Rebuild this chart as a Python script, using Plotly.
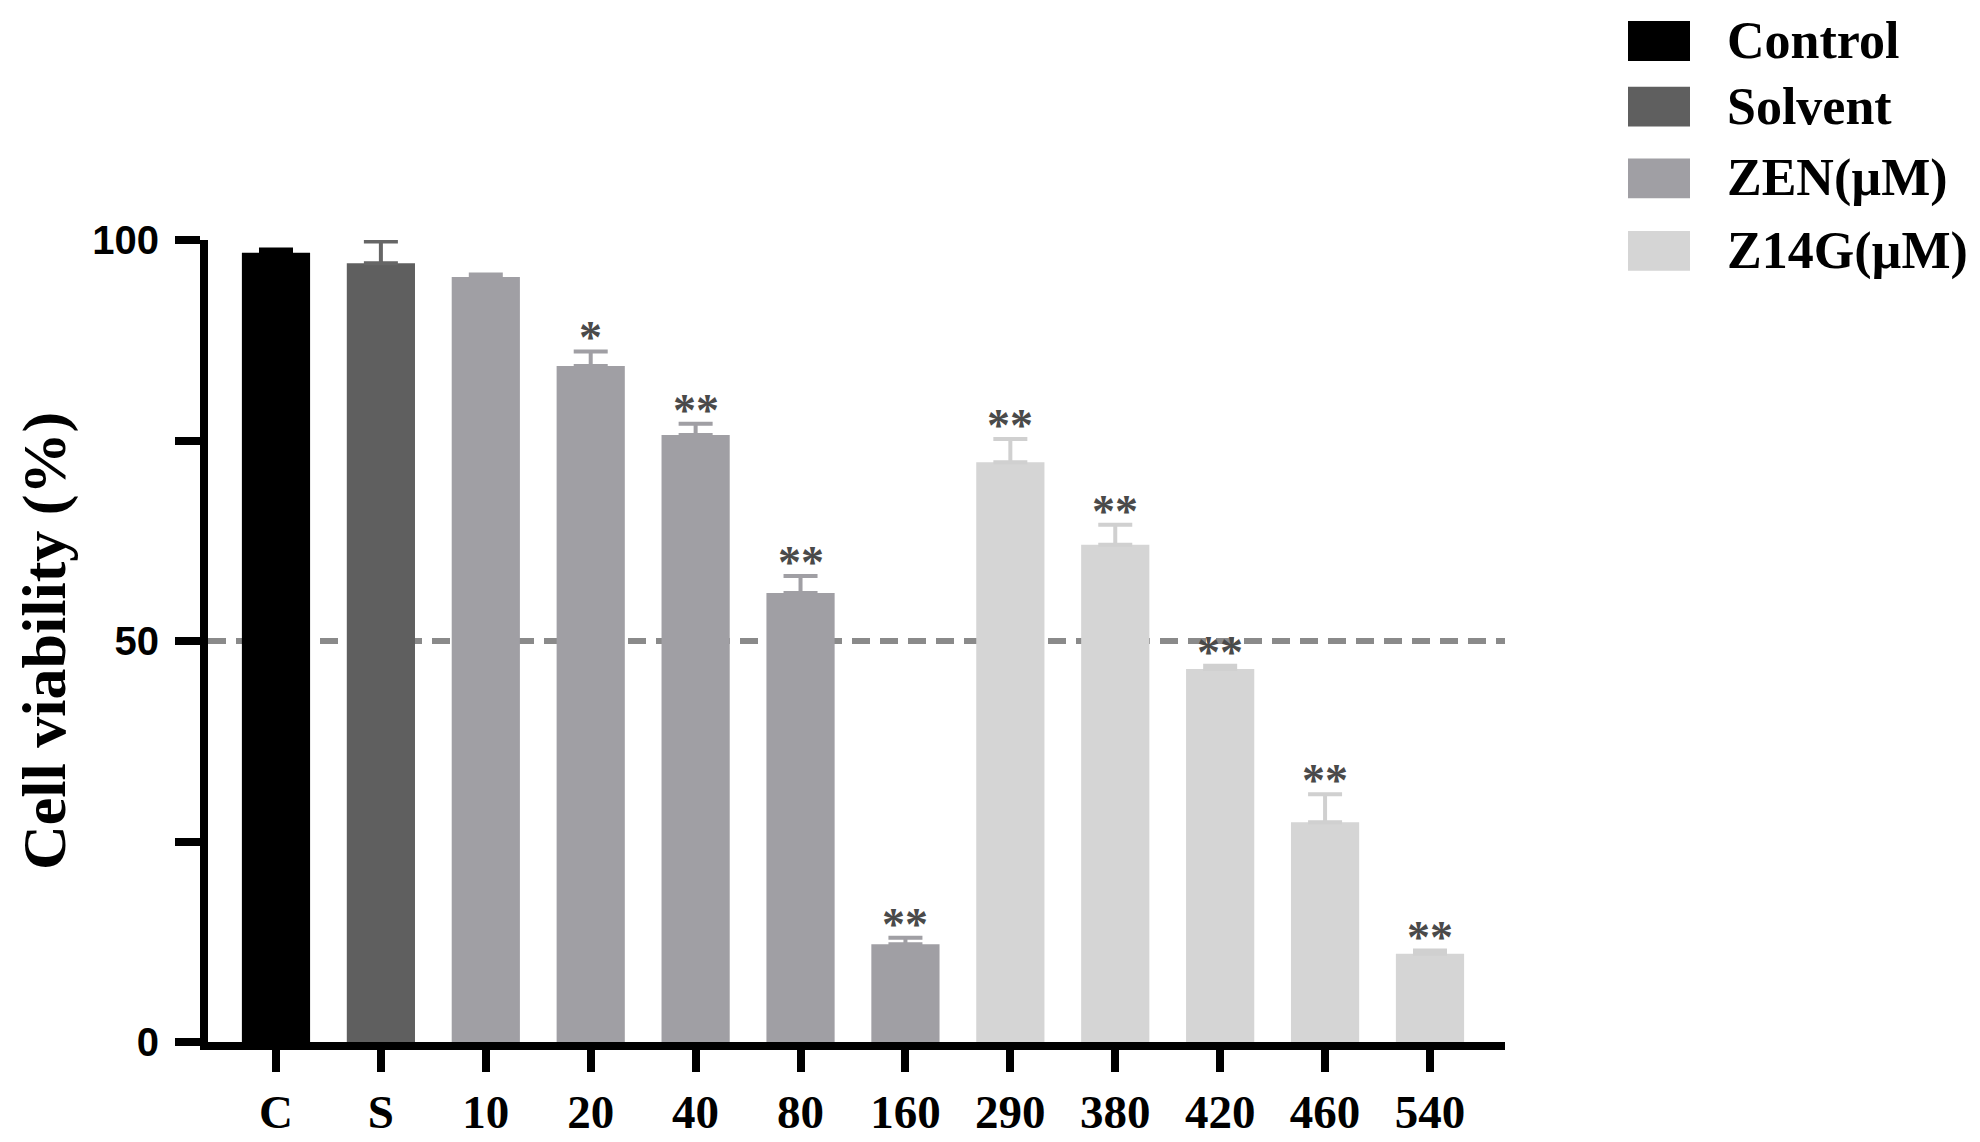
import plotly.graph_objects as go

# cell viability per treatment
categories = ['C', 'S', '10', '20', '40', '80', '160', '290', '380', '420', '460', '540']
bar_group = ['Control', 'Solvent', 'ZEN(µM)', 'ZEN(µM)', 'ZEN(µM)', 'ZEN(µM)', 'ZEN(µM)',
             'Z14G(µM)', 'Z14G(µM)', 'Z14G(µM)', 'Z14G(µM)', 'Z14G(µM)']
viability = [98.4, 97.1, 95.4, 84.3, 75.7, 56.0, 12.2, 72.3, 62.0, 46.5, 27.4, 11.0]
sem = [0.4, 2.7, 0.3, 1.8, 1.4, 2.1, 0.8, 2.9, 2.5, 0.4, 3.5, 0.4]
stars = ['', '', '', '*', '**', '**', '**', '**', '**', '**', '**', '**']

groups = ['Control', 'Solvent', 'ZEN(µM)', 'Z14G(µM)']
group_colors = ['#000000', '#5f5f5f', '#a09fa4', '#d5d5d5']
err_colors = ['#000000', '#666666', '#a09fa4', '#d0d0d0']

W, H = 1980, 1142
L, R, T, B = 200, 483, 232, 104
pw, ph = W - L - R, H - T - B


def px_x(x):
    return (x - L) / pw


def px_y(y):
    return (H - B - y) / ph


serif = 'Liberation Serif, Times New Roman, serif'

fig = go.Figure()

for g, col, ecol in zip(groups, group_colors, err_colors):
    idx = [i for i, bg in enumerate(bar_group) if bg == g]
    fig.add_trace(go.Bar(
        x=[categories[i] for i in idx],
        y=[viability[i] for i in idx],
        name=g,
        marker=dict(color=col, line=dict(width=0)),
        width=0.65,
        error_y=dict(type='data', symmetric=False,
                     array=[sem[i] for i in idx],
                     arrayminus=[0] * len(idx),
                     color=ecol, thickness=4, width=17),
        showlegend=False,
    ))

# significance stars (x given as category index, labels like '20' would be read as an index)
for i, (v, e, s) in enumerate(zip(viability, sem, stars)):
    if s:
        fig.add_annotation(x=i, y=v + e, text=s, showarrow=False,
                           yanchor='bottom', yshift=-14,
                           font=dict(family=serif, size=46, color='#4a4a4a', weight='bold'))

# 50% reference line
fig.add_shape(type='line', xref='paper', x0=0, x1=1, yref='y', y0=50, y1=50,
              line=dict(color='#8a8a8a', width=6, dash='18px,10px'), layer='below')

# legend drawn by hand so the swatches match the size of the original
legend_y = [32, 98, 170, 243]
for g, col, yc in zip(groups, group_colors, legend_y):
    fig.add_shape(type='rect', xref='paper', yref='paper',
                  x0=px_x(1620), x1=px_x(1682), y0=px_y(yc + 20), y1=px_y(yc - 20),
                  fillcolor=col, line=dict(width=0))
    fig.add_annotation(xref='paper', yref='paper', x=px_x(1717), y=px_y(yc),
                       xanchor='left', yanchor='middle', text=g, showarrow=False,
                       font=dict(family=serif, size=52, color='black', weight='bold'))

# y axis title
fig.add_annotation(xref='paper', yref='paper', x=px_x(36), y=0.5, text='Cell viability (%)',
                   textangle=-90, showarrow=False, xanchor='center', yanchor='middle',
                   font=dict(family=serif, size=62, color='black', weight='bold'))

fig.update_layout(
    width=W, height=H,
    margin=dict(l=L, r=R, t=T, b=B),
    barmode='overlay',
    plot_bgcolor='white', paper_bgcolor='white',
)
fig.update_xaxes(
    type='category', categoryorder='array', categoryarray=categories,
    range=[-0.648, 11.715],
    showline=True, linecolor='black', linewidth=8,
    ticks='outside', ticklen=22, tickwidth=8, tickcolor='black',
    tickfont=dict(family=serif, size=47, color='black', weight='bold'),
    showgrid=False, zeroline=False,
)
fig.update_yaxes(
    range=[0, 100],
    tickvals=[0, 25, 50, 75, 100], ticktext=['0', '', '50', '', '100'],
    showline=True, linecolor='black', linewidth=8,
    ticks='outside', ticklen=25, tickwidth=8, tickcolor='black', ticklabelstandoff=8,
    tickfont=dict(family='Liberation Sans, Arial, sans-serif', size=40, color='black', weight='bold'),
    showgrid=False, zeroline=False,
)

fig.write_html("out.html")
